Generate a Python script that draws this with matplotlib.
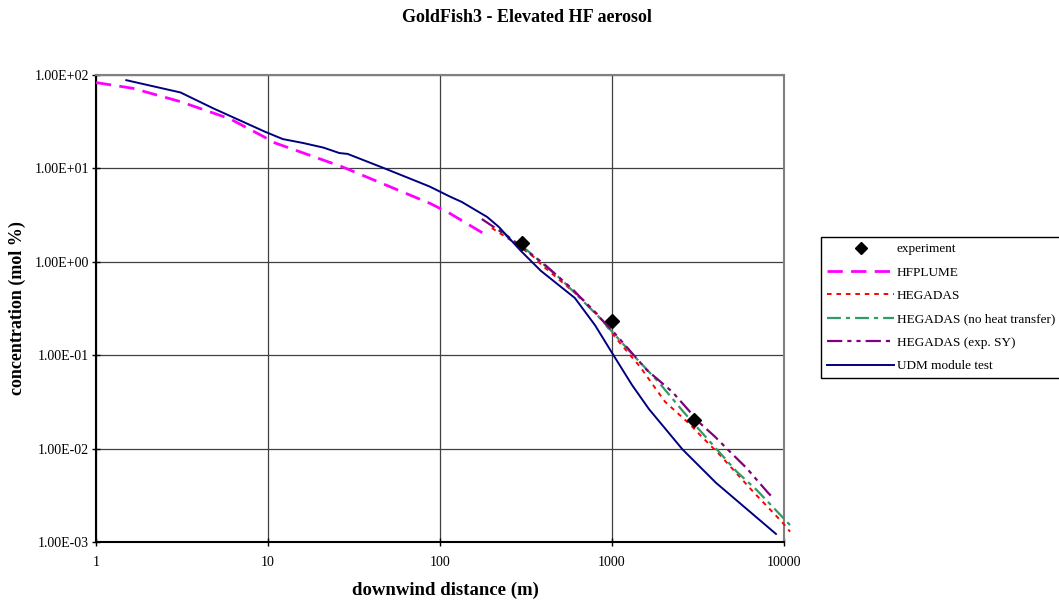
import matplotlib
matplotlib.use("Agg")
import matplotlib.pyplot as plt

plt.rcParams['font.family'] = ['Liberation Serif', 'DejaVu Serif']
plt.rcParams['lines.scale_dashes'] = False

# ---- data ----
exp_x = [300, 1000, 3000]
exp_y = [1.6, 0.23, 0.02]

hfplume_x = [1, 1.64, 3.08, 6.0, 9.6, 10.5, 27, 88, 114, 180]
hfplume_y = [83, 72, 52, 34, 21.5, 19.3, 10.4, 4.2, 3.3, 2.0]

hegadas_x = [200, 266, 349, 386, 681, 814, 1020, 1138, 1455, 2032, 2840,
             3250, 4245, 6610, 9700, 10850]
hegadas_y = [2.3, 1.64, 1.135, 0.94, 0.39, 0.281, 0.165, 0.1285, 0.0753,
             0.0318, 0.0182, 0.014, 0.00853, 0.00346, 0.00165, 0.00129]

hegadas_nht_x = [220, 319, 499, 834, 1273, 1858, 2600, 3040, 5310, 6940, 10830]
hegadas_nht_y = [2.2, 1.34, 0.665, 0.26, 0.109, 0.052, 0.0248, 0.0179,
                 0.00566, 0.0036, 0.00152]

hegadas_sy_x = [175, 233, 398, 596, 1000, 1592, 2245, 2780, 3250, 3970,
                4600, 6050, 8070, 8480]
hegadas_sy_y = [2.87, 2.02, 0.964, 0.499, 0.185, 0.0695, 0.0404, 0.0259,
                0.0187, 0.0134, 0.0102, 0.0062, 0.00337, 0.00307]

udm_x = [1.5, 3.1, 4.8, 9.6, 12.2, 16, 21, 26, 29, 47, 87, 114, 134, 188,
         220, 295, 386, 608, 796, 1020, 1307, 1640, 2570, 4025, 8980]
udm_y = [88, 65, 44, 24.7, 20.6, 18.7, 16.7, 14.6, 14.3, 10.1, 6.4, 5.0,
         4.37, 3.02, 2.36, 1.31, 0.80, 0.41, 0.21, 0.100, 0.048, 0.0265,
         0.0098, 0.0043, 0.00122]

x_ticks = [1, 10, 100, 1000, 10000]
x_ticklabels = ['1', '10', '100', '1000', '10000']
y_ticks = [1e2, 1e1, 1e0, 1e-1, 1e-2, 1e-3]
y_ticklabels = ['1.00E+02', '1.00E+01', '1.00E+00', '1.00E-01', '1.00E-02', '1.00E-03']

# ---- figure ----
fig = plt.figure(figsize=(10.59, 6.04), dpi=100)
L, R, T, B = 96, 784, 75, 542
W, H = 1059, 604
ax = fig.add_axes([L / W, 1 - B / H, (R - L) / W, (B - T) / H])
ax.set_xscale('log')
ax.set_yscale('log')
ax.set_xlim(1, 10000)
ax.set_ylim(1e-3, 1e2)

ax.plot(hfplume_x, hfplume_y, color='#FF00FF', lw=2.0, dashes=(11, 6),
        label='HFPLUME', zorder=3)
ax.plot(hegadas_x, hegadas_y, color='#FF0000', lw=1.4, dashes=(3.3, 3.5),
        label='HEGADAS', zorder=3, clip_on=False)
ax.plot(hegadas_nht_x, hegadas_nht_y, color='#339966', lw=1.6,
        dashes=(10, 3.6, 3, 3.6), label='HEGADAS (no heat transfer)',
        zorder=3, clip_on=False)
ax.plot(hegadas_sy_x, hegadas_sy_y, color='#800080', lw=1.6,
        dashes=(11, 3.6, 3, 3.6, 3, 3.6), label='HEGADAS (exp. SY)', zorder=3)
ax.plot(udm_x, udm_y, color='#000080', lw=1.4, label='UDM module test',
        zorder=4)
ax.plot(exp_x, exp_y, linestyle='none', marker='D', markersize=7.5,
        color='black', label='experiment', zorder=5)

ax.set_xticks(x_ticks)
ax.set_xticklabels(x_ticklabels)
ax.set_yticks(y_ticks)
ax.set_yticklabels(y_ticklabels)
ax.minorticks_off()
ax.tick_params(axis='both', which='major', labelsize=10, direction='inout',
               length=6, width=1, colors='black')
ax.tick_params(axis='x', pad=7)
ax.tick_params(axis='y', pad=2)

ax.grid(True, which='major', color='#404040', lw=0.9)
ax.set_axisbelow(True)
for side in ['left', 'bottom']:
    ax.spines[side].set_color('black')
    ax.spines[side].set_linewidth(1.5)
for side in ['top', 'right']:
    ax.spines[side].set_color('#808080')
    ax.spines[side].set_linewidth(1.5)

fig.text(527 / W, 1 - 17 / H, 'GoldFish3 - Elevated HF aerosol',
         ha='center', va='center', fontsize=13, fontweight='bold')
fig.text(17 / W, 1 - 308 / H, 'concentration (mol %)', rotation=90,
         ha='center', va='center', fontsize=13, fontweight='bold')
fig.text(445 / W, 1 - 590 / H, 'downwind distance (m)',
         ha='center', va='center', fontsize=13.5, fontweight='bold')

handles, labels = ax.get_legend_handles_labels()
order = ['experiment', 'HFPLUME', 'HEGADAS', 'HEGADAS (no heat transfer)',
         'HEGADAS (exp. SY)', 'UDM module test']
hmap = dict(zip(labels, handles))
leg = fig.legend([hmap[k] for k in order], order,
                 loc='upper left', bbox_to_anchor=(821 / W, 1 - 237 / H),
                 fontsize=9.5, frameon=True, fancybox=False, shadow=False,
                 edgecolor='black', framealpha=1, borderpad=0.45,
                 labelspacing=0.85, handlelength=5.1, handletextpad=0.2,
                 borderaxespad=0, markerscale=0.85)
leg.get_frame().set_linewidth(1.0)

fig.savefig('out.png', dpi=100)
